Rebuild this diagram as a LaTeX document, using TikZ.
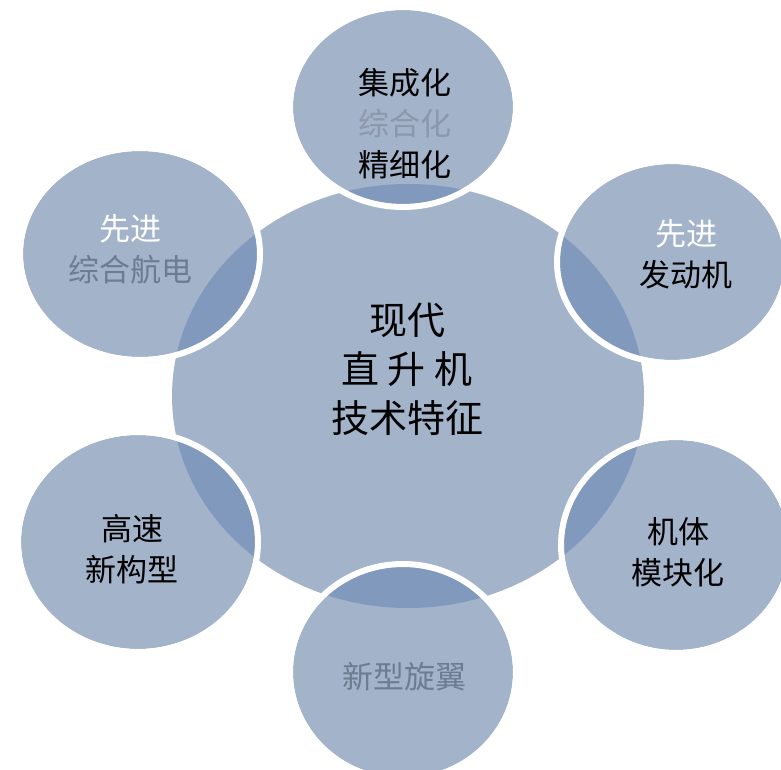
\documentclass[tikz,border=0pt]{standalone}
\usepackage{fontspec}
\setmainfont{Noto Sans CJK SC}
\usetikzlibrary{shapes.geometric}
\definecolor{fillblue}{HTML}{A2B3CA}
\definecolor{darkblue}{HTML}{8199BC}
\definecolor{lightgraytext}{HTML}{8C98AA}
\definecolor{graytext}{HTML}{6E7C90}
\begin{document}
\begin{tikzpicture}[x=1pt,y=-1pt,
  sat/.style={fill=fillblue},
  ring/.style={draw=white,line width=6pt},
  lab/.style={align=center,inner sep=0pt,font=\fontsize{31}{41}\selectfont},
  bigLab/.style={align=center,inner sep=0pt,font=\fontsize{38}{49}\selectfont}]
\useasboundingbox (0,0) rectangle (781,770);
% central shape
\node[ellipse,fill=fillblue,minimum width=472pt,minimum height=424pt,inner sep=0pt] (core) at (408,396) {};
% satellites
\newcommand{\centralpath}{(408,396) ellipse [x radius=236, y radius=212]}
\foreach \nm/\cx/\cy/\rx/\ry in {top/403/107/110/97, tl/140/254/117/103, tr/672/262/112/98, bl/138/542/117/107, br/676/545/112/105, bot/403/672/110/105}{
  \node[ellipse,sat,minimum width=2*\rx pt,minimum height=2*\ry pt,inner sep=0pt] (\nm) at (\cx,\cy) {};
  \begin{scope}
    \clip \centralpath;
    \fill[darkblue] (\cx,\cy) ellipse [x radius=\rx, y radius=\ry];
  \end{scope}
  \draw[ring] (\cx,\cy) ellipse [x radius=\rx+3, y radius=\ry+3];
}
% texts
\node[lab] (ttop) at (405,124) {集成化\\\textcolor{lightgraytext}{综合化}\\精细化};
\node[lab] (ttl) at (130,249) {\textcolor{white}{先进}\\\textcolor{graytext}{综合航电}};
\node[lab] (ttr) at (686,254) {\textcolor{white}{先进}\\发动机};
\node[lab] (tbl) at (132,549) {高速\\新构型};
\node[lab] (tbr) at (678,552) {机体\\模块化};
\node[lab,text=graytext] (tbot) at (404,677) {新型旋翼};
\node[bigLab] (tcore) at (407,369) {现代\\直\hspace{9pt}升\hspace{9pt}机\\技术特征};
\end{tikzpicture}
\end{document}
